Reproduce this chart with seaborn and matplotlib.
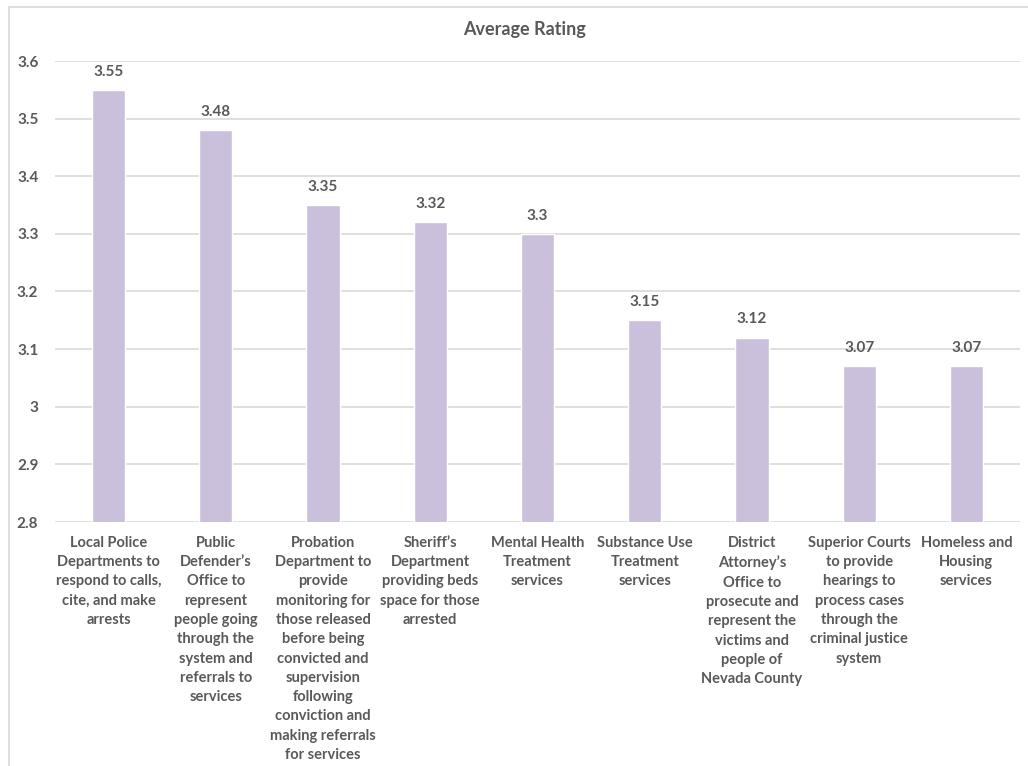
import matplotlib
matplotlib.use("Agg")
import matplotlib.pyplot as plt
import seaborn as sns
import pandas as pd
from matplotlib.lines import Line2D

categories = [
    "Local Police\nDepartments to\nrespond to calls,\ncite, and make\narrests",
    "Public\nDefender\u2019s\nOffice to\nrepresent\npeople going\nthrough the\nsystem and\nreferrals to\nservices",
    "Probation\nDepartment to\nprovide\nmonitoring for\nthose released\nbefore being\nconvicted and\nsupervision\nfollowing\nconviction and\nmaking referrals\nfor services",
    "Sheriff\u2019s\nDepartment\nproviding beds\nspace for those\narrested",
    "Mental Health\nTreatment\nservices",
    "Substance Use\nTreatment\nservices",
    "District\nAttorney\u2019s\nOffice to\nprosecute and\nrepresent the\nvictims and\npeople of\nNevada County",
    "Superior Courts\nto provide\nhearings to\nprocess cases\nthrough the\ncriminal justice\nsystem",
    "Homeless and\nHousing\nservices",
]
values = [3.55, 3.48, 3.35, 3.32, 3.30, 3.15, 3.12, 3.07, 3.07]
y_ticks = [2.8, 2.9, 3.0, 3.1, 3.2, 3.3, 3.4, 3.5, 3.6]
y_tick_labels = ["2.8", "2.9", "3", "3.1", "3.2", "3.3", "3.4", "3.5", "3.6"]
title = "Average Rating"

sns.set_theme(style="white")
plt.rcParams["font.family"] = ["Lato", "DejaVu Sans"]

text_color = "#595959"
bar_color = "#CBC0DC"
grid_color = "#D9D9D9"

df = pd.DataFrame({"category": categories, "value": values})

fig = plt.figure(figsize=(10.28, 7.66), dpi=100)
ax = fig.add_axes([55 / 1028, 1 - 522 / 766, (1020 - 55) / 1028, (522 - 61) / 766])

sns.barplot(data=df, x="category", y="value", color=bar_color, width=0.31,
            saturation=1, ax=ax, zorder=3)
ax.set_ylim(2.8, 3.6)
ax.set_xlim(-0.5, len(categories) - 0.5)
ax.set_yticks(y_ticks)
ax.set_yticklabels(y_tick_labels, fontsize=11, fontweight="bold", color=text_color)
ax.tick_params(axis="y", length=0, pad=12)
ax.tick_params(axis="x", length=0, pad=10)
for lbl in ax.get_xticklabels():
    lbl.set_fontsize(10.5)
    lbl.set_fontweight("bold")
    lbl.set_color(text_color)
    lbl.set_linespacing(1.48)
    lbl.set_verticalalignment("top")
ax.set_xlabel("")
ax.set_ylabel("")
ax.yaxis.grid(True, color=grid_color, linewidth=1.2, zorder=0)
for s in ax.spines.values():
    s.set_visible(False)

for container in ax.containers:
    ax.bar_label(container, fmt="%g", padding=8, fontsize=11,
                 fontweight="bold", color=text_color)

fig.text(524 / 1028, 1 - 30 / 766, title, ha="center", va="center",
         fontsize=13, fontweight="bold", color=text_color)

# outer chart border (partial, like the screenshot)
fig.add_artist(Line2D([9 / 1028, 9 / 1028], [0, 1 - 7 / 766],
                      transform=fig.transFigure, color=grid_color, linewidth=1.2))
fig.add_artist(Line2D([9 / 1028, 1], [1 - 7 / 766, 1 - 7 / 766],
                      transform=fig.transFigure, color=grid_color, linewidth=1.2))

fig.savefig("out.png", dpi=100)
